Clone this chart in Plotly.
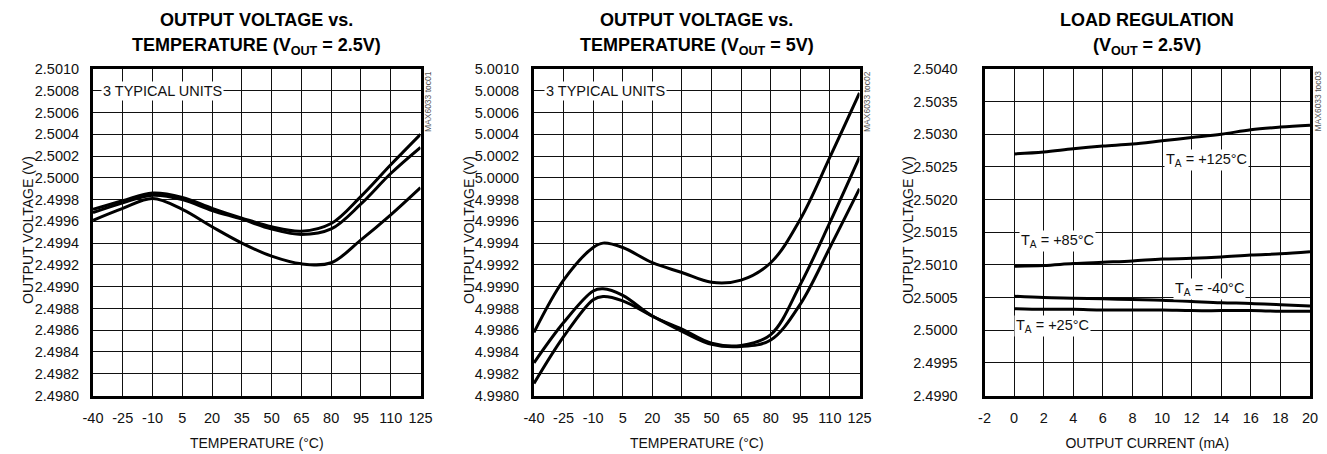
import plotly.graph_objects as go

# ---------------- data ----------------
temps1 = [-40, -25, -10, 5, 20, 35, 50, 65, 80, 95, 110, 125]
vout25_unit1 = [2.49971, 2.49979, 2.49986, 2.49982, 2.49972, 2.49963, 2.49955, 2.49951, 2.49958, 2.49983, 2.50012, 2.50040]
vout25_unit2 = [2.49968, 2.49977, 2.49984, 2.49980, 2.49970, 2.49962, 2.49953, 2.49948, 2.49953, 2.49976, 2.50004, 2.50028]
vout25_unit3 = [2.49961, 2.49972, 2.49981, 2.49971, 2.49955, 2.49940, 2.49928, 2.49921, 2.49922, 2.49943, 2.49966, 2.49991]

temps2 = [-40, -25, -10, -5, 5, 20, 35, 50, 65, 80, 95, 110, 125]
vout5_unit1 = [4.99858, 4.99906, 4.99936, 4.99940, 4.99936, 4.99922, 4.99913, 4.99904, 4.99906, 4.99922, 4.99962, 5.00019, 5.00078]
vout5_unit2 = [4.99830, 4.99867, 4.99896, 4.99898, 4.99892, 4.99873, 4.99861, 4.99848, 4.99846, 4.99856, 4.99902, 4.99959, 5.00019]
vout5_unit3 = [4.99811, 4.99854, 4.99888, 4.99891, 4.99887, 4.99873, 4.99859, 4.99847, 4.99845, 4.99851, 4.99884, 4.99936, 4.99990]

current_ma = [0, 2, 4, 6, 8, 10, 12, 14, 16, 18, 20]
load_125 = [2.50270, 2.50273, 2.50278, 2.50282, 2.50285, 2.50290, 2.50295, 2.50300, 2.50307, 2.50311, 2.50314]
load_85 = [2.50098, 2.50099, 2.50102, 2.50104, 2.50106, 2.50109, 2.50110, 2.50112, 2.50115, 2.50117, 2.50120]
load_m40 = [2.50052, 2.50050, 2.50049, 2.50048, 2.50047, 2.50046, 2.50044, 2.50042, 2.50041, 2.50039, 2.50037]
load_25 = [2.50033, 2.50032, 2.50032, 2.50031, 2.50031, 2.50031, 2.50030, 2.50030, 2.50030, 2.50029, 2.50029]

temp_ticks = [-40, -25, -10, 5, 20, 35, 50, 65, 80, 95, 110, 125]
current_ticks = [-2, 0, 2, 4, 6, 8, 10, 12, 14, 16, 18, 20]

# ---------------- styling ----------------
FONT = "Liberation Sans, Arial, sans-serif"
W, H = 1327, 454
TOP_PX, BOT_PX = 69, 395.5
ydom = [1 - BOT_PX / H, 1 - TOP_PX / H]
xdoms = [[93 / W, 420.5 / W], [534 / W, 859.5 / W], [984.5 / W, 1310 / W]]

fig = go.Figure()
line = dict(color="black", width=3, shape="spline", smoothing=1.0)

for ys in (vout25_unit1, vout25_unit2, vout25_unit3):
    fig.add_trace(go.Scatter(x=temps1, y=ys, mode="lines", line=line, xaxis="x", yaxis="y", showlegend=False))
for ys in (vout5_unit1, vout5_unit2, vout5_unit3):
    fig.add_trace(go.Scatter(x=temps2, y=ys, mode="lines", line=line, xaxis="x2", yaxis="y2", showlegend=False))
for ys in (load_125, load_85, load_m40, load_25):
    fig.add_trace(go.Scatter(x=current_ma, y=ys, mode="lines", line=line, xaxis="x3", yaxis="y3", showlegend=False))

tickfont = dict(family=FONT, size=14.5, color="#111")
titlefont = dict(family=FONT, size=14, color="#111")

def xaxis(dom, rng, ticks, title, anchor):
    return dict(domain=dom, range=rng, tickvals=ticks, ticktext=[str(t) for t in ticks],
                showgrid=True, gridcolor="#111", gridwidth=1, zeroline=False,
                showline=True, linecolor="black", linewidth=3, mirror=True,
                ticks="", tickangle=0, tickfont=tickfont, ticklabelstandoff=7, automargin=False,
                title=dict(text=title, font=titlefont, standoff=14), anchor=anchor, fixedrange=True)

def yaxis(rng, dtick, anchor, standoff_lbl):
    return dict(domain=ydom, range=rng, dtick=dtick, tick0=rng[0], tickformat=".4f",
                showgrid=True, gridcolor="#111", gridwidth=1, zeroline=False,
                showline=True, linecolor="black", linewidth=3, mirror=True,
                ticks="", tickangle=0, tickfont=tickfont, ticklabelstandoff=standoff_lbl, automargin=False,
                anchor=anchor, fixedrange=True)

fig.update_layout(
    width=W, height=H, margin=dict(l=0, r=0, t=0, b=0, autoexpand=False),
    paper_bgcolor="white", plot_bgcolor="white", showlegend=False,
    xaxis=xaxis(xdoms[0], [-40, 125], temp_ticks, "TEMPERATURE (°C)", "y"),
    xaxis2=xaxis(xdoms[1], [-40, 125], temp_ticks, "TEMPERATURE (°C)", "y2"),
    xaxis3=xaxis(xdoms[2], [-2, 20], current_ticks, "OUTPUT CURRENT (mA)", "y3"),
    yaxis=yaxis([2.4980, 2.5010], 0.0002, "x", 8),
    yaxis2=yaxis([4.9980, 5.0010], 0.0002, "x2", 9),
    yaxis3=yaxis([2.4990, 2.5040], 0.0005, "x3", 21),
)

ann = []
boldfont = dict(family=FONT, size=18, color="black")
titles = [
    ("OUTPUT VOLTAGE vs.", "TEMPERATURE (V<sub>OUT</sub> = 2.5V)"),
    ("OUTPUT VOLTAGE vs.", "TEMPERATURE (V<sub>OUT</sub> = 5V)"),
    ("LOAD REGULATION", "(V<sub>OUT</sub> = 2.5V)"),
]
for dom, (l1, l2) in zip(xdoms, titles):
    cx = (dom[0] + dom[1]) / 2
    ann.append(dict(x=cx, y=1 - 20 / H, xref="paper", yref="paper", text="<b>%s</b>" % l1,
                    showarrow=False, font=boldfont, xanchor="center", yanchor="middle"))
    ann.append(dict(x=cx, y=1 - 46 / H, xref="paper", yref="paper", text="<b>%s</b>" % l2,
                    showarrow=False, font=boldfont, xanchor="center", yanchor="middle"))

# y axis titles
for xc in (28, 469, 908):
    ann.append(dict(x=xc / W, y=1 - 230 / H, xref="paper", yref="paper", text="OUTPUT VOLTAGE (V)",
                    textangle=-90, showarrow=False, font=titlefont, xanchor="center", yanchor="middle"))

# side ID labels
for dom, txt in zip(xdoms, ["MAX6033 toc01", "MAX6033 toc02", "MAX6033 toc03"]):
    ann.append(dict(x=dom[1] + 8 / W, y=1 - 69 / H, xref="paper", yref="paper", text=txt,
                    textangle=-90, showarrow=False, font=dict(family=FONT, size=8.5, color="#555"),
                    xanchor="center", yanchor="top"))

labfont = dict(family=FONT, size=14.5, color="#111")
ann.append(dict(x=-5, y=2.5008, xref="x", yref="y", text="3 TYPICAL UNITS", showarrow=False,
                font=labfont, bgcolor="white", borderpad=1))
ann.append(dict(x=-4, y=5.0008, xref="x2", yref="y2", text="3 TYPICAL UNITS", showarrow=False,
                font=labfont, bgcolor="white", borderpad=1))
for x, y, t in [(13.0, 2.50260, "T<sub>A</sub> = +125°C"), (2.9, 2.50137, "T<sub>A</sub> = +85°C"),
                (13.2, 2.50063, "T<sub>A</sub> = -40°C"), (2.6, 2.50006, "T<sub>A</sub> = +25°C")]:
    ann.append(dict(x=x, y=y, xref="x3", yref="y3", text=t, showarrow=False, font=labfont,
                    bgcolor="white", borderpad=1))

fig.update_layout(annotations=ann)
fig.write_html("out.html", config={"displayModeBar": False},
               post_script="document.body.style.margin='0';document.body.style.overflow='hidden';")
